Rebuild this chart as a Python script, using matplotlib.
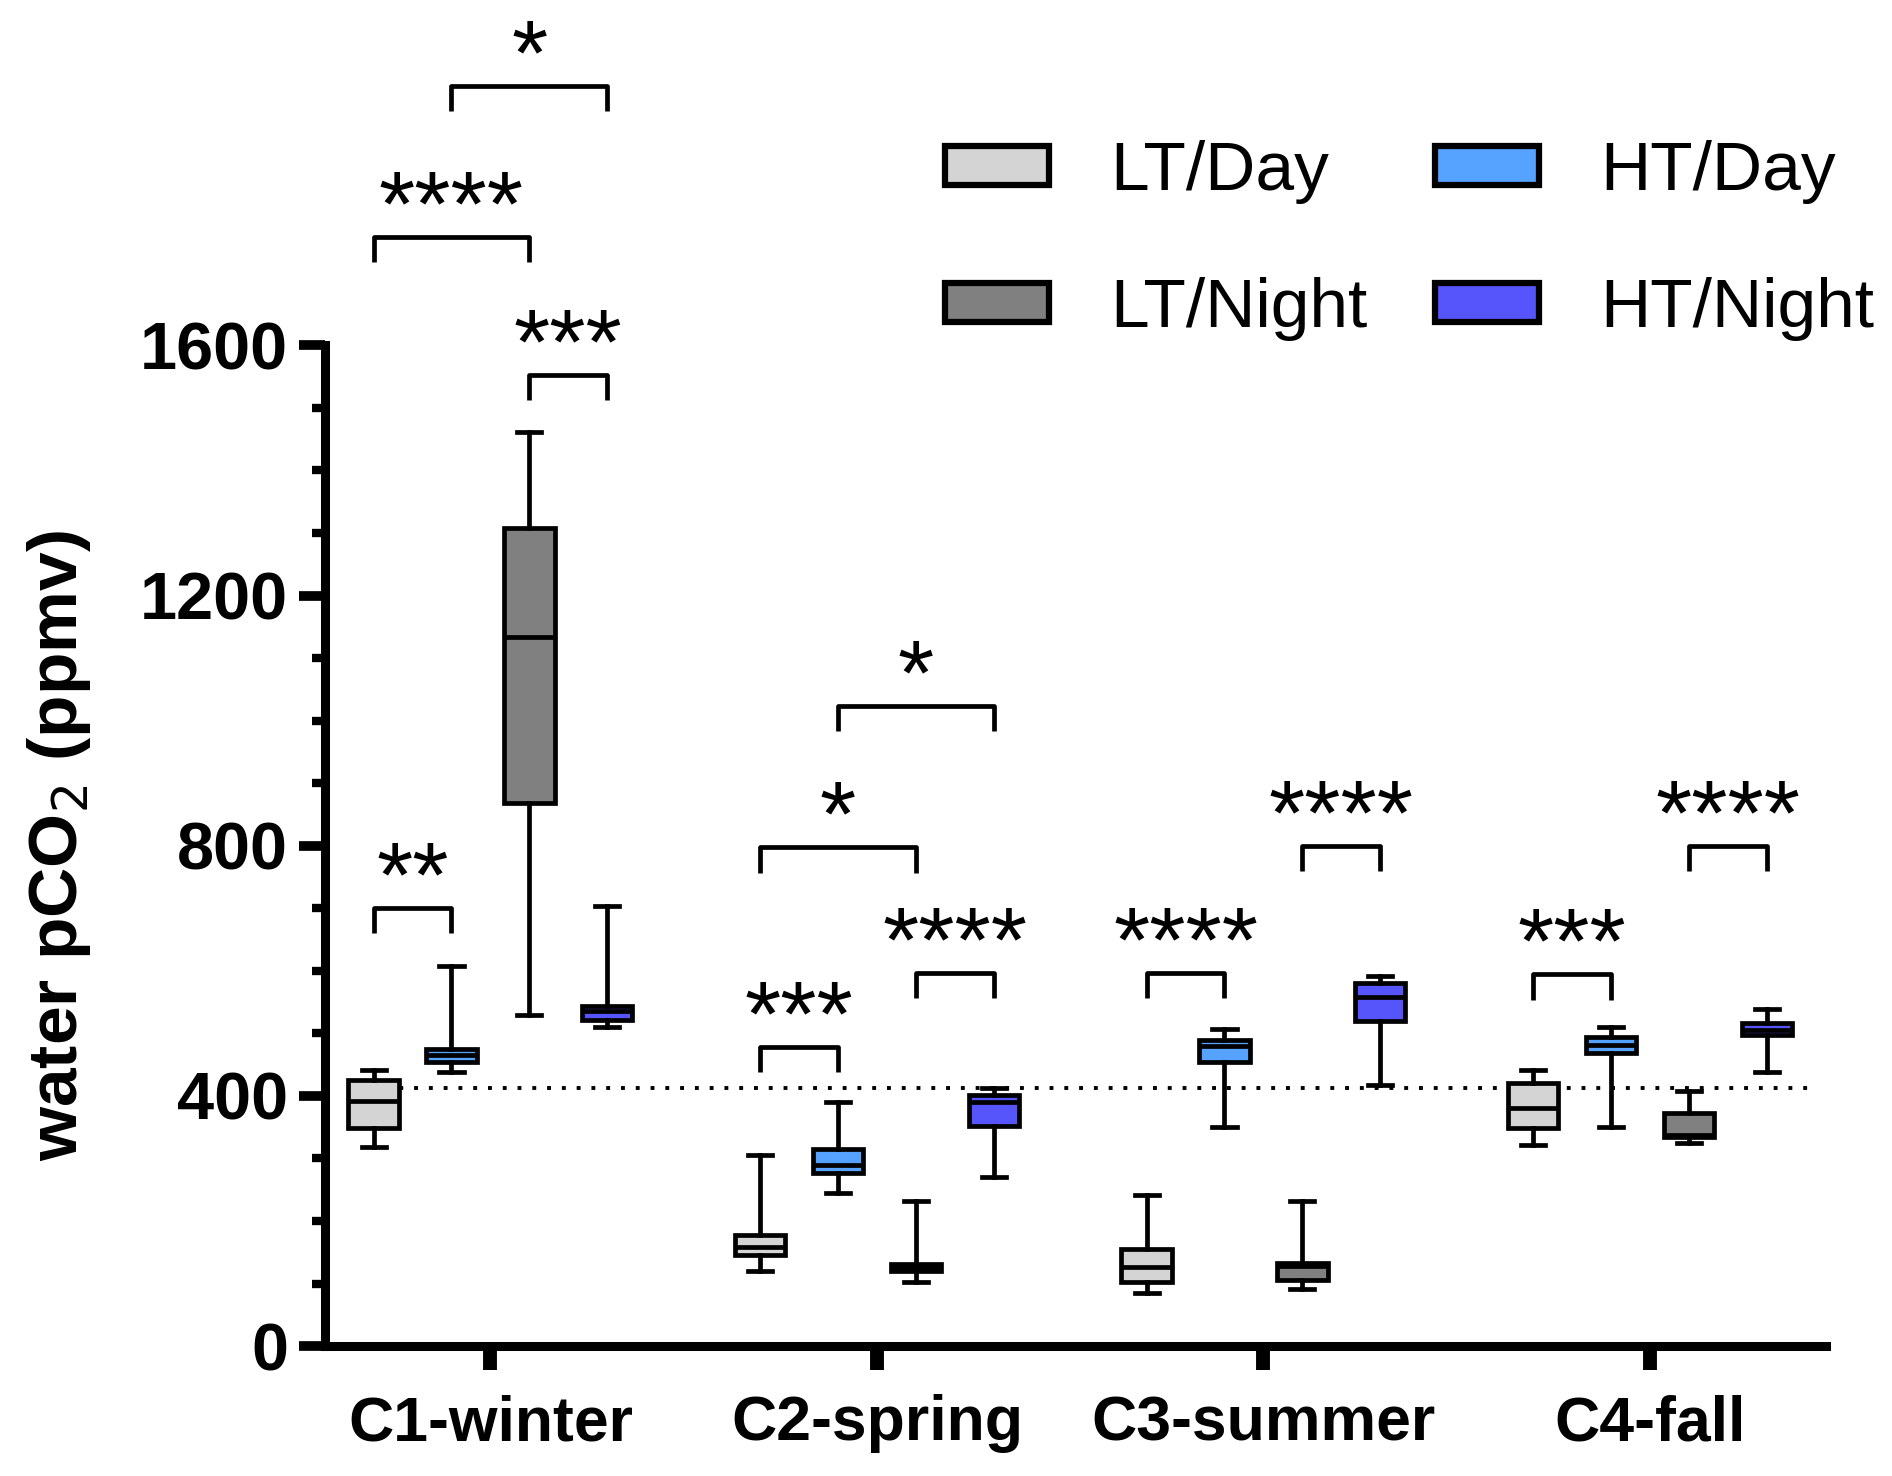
import numpy as np
import matplotlib
matplotlib.use('Agg')
from matplotlib import pyplot as plt
from matplotlib.patches import Patch

# --------------------------------------------------------------------------------------------------
# Data: five-number summaries, rows = seasons, columns = treatments
# --------------------------------------------------------------------------------------------------

categories = ['C1-winter', 'C2-spring', 'C3-summer', 'C4-fall']
groups = ['LT/Day', 'HT/Day', 'LT/Night', 'HT/Night']
colors = ['#d4d4d4', '#55a2ff', '#808080', '#5655fb']

whis_hi = [[442, 607, 1461, 703],
           [305, 390, 232, 413],
           [242, 507, 232, 591],
           [442, 510, 408, 539]]
q3 = [[425, 475, 1308, 543],
      [178, 315, 131, 402],
      [155, 490, 133, 581],
      [421, 495, 373, 516]]
medians = [[392, 466, 1134, 535],
           [158, 290, 126, 390],
           [126, 480, 128, 558],
           [381, 481, 338, 506]]
q1 = [[348, 454, 868, 522],
      [145, 276, 120, 352],
      [102, 454, 106, 520],
      [348, 468, 334, 497]]
whis_lo = [[319, 439, 529, 510],
           [120, 245, 102, 270],
           [85, 350, 91, 417],
           [321, 350, 325, 439]]

atmos_pco2 = 413

# significance brackets: (season, group a, group b, bracket height, label)
sig_season = [0, 0, 0, 0, 1, 1, 1, 1, 2, 2, 3, 3]
sig_a = [0, 0, 1, 2, 0, 2, 0, 1, 0, 2, 0, 2]
sig_b = [1, 2, 3, 3, 1, 3, 2, 3, 1, 3, 1, 3]
sig_y = [701, 1774, 2015, 1553, 479, 597, 798, 1024, 597, 800, 595, 800]
sig_label = ['**', '****', '*', '***', '***', '****', '*', '*', '****', '****', '***', '****']

# --------------------------------------------------------------------------------------------------
# Plot
# --------------------------------------------------------------------------------------------------

plt.rcParams['font.family'] = ['Liberation Sans', 'DejaVu Sans']

fig = plt.figure(figsize=(18.92, 14.76), dpi=100)
ax = fig.add_axes([0.172, 0.088, 0.793, 0.678])

spacing = 0.2016
offsets = (np.arange(4) - 1.5) * spacing
box_w = 0.13
lw = 3.4

for i in range(len(categories)):
    for j in range(len(groups)):
        stats = [dict(whislo=whis_lo[i][j], q1=q1[i][j], med=medians[i][j],
                      q3=q3[i][j], whishi=whis_hi[i][j], fliers=[])]
        ax.bxp(stats, positions=[i + offsets[j]], widths=box_w, patch_artist=True,
               showfliers=False, manage_ticks=False,
               boxprops=dict(facecolor=colors[j], edgecolor='black', linewidth=lw),
               medianprops=dict(color='black', linewidth=lw),
               whiskerprops=dict(color='black', linewidth=lw),
               capprops=dict(color='black', linewidth=lw),
               capwidths=box_w * 0.48)

# atmospheric reference line
ax.plot([-0.35, 3.43], [atmos_pco2, atmos_pco2], color='black', lw=2.8,
        linestyle=(0, (1, 2.8)), zorder=1)

# significance brackets
leg = 41
for s, a, b, y, lab in zip(sig_season, sig_a, sig_b, sig_y, sig_label):
    xa = s + offsets[a]
    xb = s + offsets[b]
    ax.plot([xa, xa, xb, xb], [y - leg, y, y, y - leg], color='black', lw=lw,
            clip_on=False, solid_capstyle='butt')
    ax.annotate(lab, xy=((xa + xb) / 2, y), xytext=(0, 1), textcoords='offset points',
                ha='center', va='baseline', fontsize=67, annotation_clip=False)

ax.set_xlim(-0.427, 3.455)
ax.set_ylim(0, 1600)
ax.set_xticks(range(len(categories)))
ax.set_xticklabels(categories, fontsize=45, fontweight='bold')
ax.set_yticks(np.arange(0, 1601, 400))
ax.set_yticks(np.arange(0, 1601, 100), minor=True)
ax.tick_params(axis='y', labelsize=48, width=7, length=19, pad=8)
for lab in ax.get_yticklabels():
    lab.set_fontweight('bold')
ax.tick_params(axis='y', which='minor', width=6, length=9.5)
ax.tick_params(axis='x', width=10, length=17.5, pad=17)
ax.spines['top'].set_visible(False)
ax.spines['right'].set_visible(False)
ax.spines['left'].set_linewidth(6.5)
ax.spines['bottom'].set_linewidth(6.5)

ax.set_ylabel('water pCO$_2$ (ppmv)', fontsize=50, fontweight='bold', labelpad=34)

handles = [Patch(facecolor=colors[k], edgecolor='black', linewidth=4.5) for k in [0, 2, 1, 3]]
labels = [groups[k] for k in [0, 2, 1, 3]]
fig.legend(handles, labels, loc='upper left', bbox_to_anchor=(0.4995, 0.905), ncol=2,
           frameon=False, borderpad=0, borderaxespad=0,
           prop=dict(size=50),
           handlelength=1.5, handleheight=0.49, handletextpad=0.88,
           labelspacing=1.05, columnspacing=0.97)

fig.savefig('out.png', dpi=100)
